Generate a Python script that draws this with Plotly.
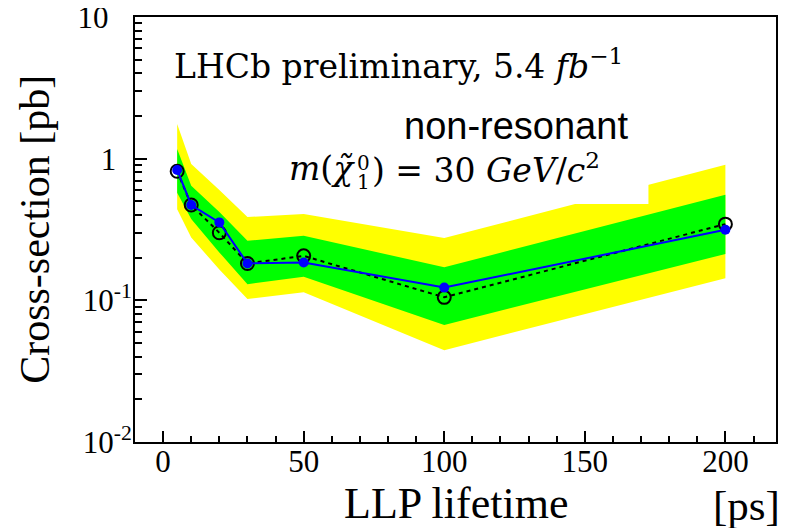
import plotly.graph_objects as go

# ---- data ----
lifetime = [5, 10, 20, 30, 50, 100, 200]            # ps
observed = [0.832, 0.471, 0.355, 0.182, 0.185, 0.123, 0.315]
expected = [0.815, 0.471, 0.300, 0.182, 0.206, 0.105, 0.345]
band1_up = [1.17, 0.645, 0.42, 0.263, 0.286, 0.171, 0.557]
band1_dn = [0.575, 0.375, 0.218, 0.130, 0.147, 0.0671, 0.212]
band2_up = [1.76, 0.917, 0.60, 0.387, 0.407, 0.275, 0.907]
band2_dn = [0.44, 0.278, 0.165, 0.102, 0.114, 0.0445, 0.143]
x_tickvals = [0, 50, 100, 150, 200]
y_tickvals = [0.01, 0.1, 1, 10]
NB = "\u00a0"
y_ticktext = ["10<sup>-2</sup>", "10<sup>-1</sup>", "1" + NB * 2, "10" + NB * 3]

SERIF = "Liberation Serif, Times New Roman, serif"
MATH = "DejaVu Serif, serif"
SANS = "Liberation Sans, Arial, sans-serif"

fig = go.Figure()

fig.add_trace(go.Scatter(
    x=lifetime + lifetime[::-1], y=band2_up + band2_dn[::-1],
    fill="toself", fillcolor="#ffff00", line=dict(width=0), mode="lines",
    hoverinfo="skip", showlegend=False))
fig.add_trace(go.Scatter(
    x=lifetime + lifetime[::-1], y=band1_up + band1_dn[::-1],
    fill="toself", fillcolor="#00ff00", line=dict(width=0), mode="lines",
    hoverinfo="skip", showlegend=False))
fig.add_trace(go.Scatter(
    x=lifetime, y=expected, mode="lines+markers",
    line=dict(color="black", width=2, dash="4px,4px"),
    marker=dict(symbol="circle-open", size=13, color="black", line=dict(width=2)),
    showlegend=False))
fig.add_trace(go.Scatter(
    x=lifetime, y=observed, mode="lines+markers",
    line=dict(color="#0000ff", width=2),
    marker=dict(symbol="circle", size=10, color="#0000ff"),
    showlegend=False))

# white background box of the pasted equation (covers part of the band)
fig.add_shape(type="rect", xref="paper", yref="paper",
              x0=0.233, x1=0.801, y0=0.56, y1=0.699,
              fillcolor="white", line=dict(width=0), layer="above")

ann = []
ann.append(dict(text="LHCb preliminary, 5.4 <i>fb</i><sup>−1</sup>",
                x=0.058, y=0.888, xanchor="left", yanchor="middle",
                font=dict(family=MATH, size=33, color="black")))
ann.append(dict(text="non-resonant", x=0.772, y=0.743, xanchor="right", yanchor="middle",
                font=dict(family=SANS, size=38, color="black")))
ann.append(dict(text="<i>m</i>(<i>χ̃</i>", x=0.347, y=0.643, xanchor="right", yanchor="middle",
                font=dict(family=MATH, size=33, color="black")))
ann.append(dict(text="0", x=0.356, y=0.656, xanchor="center", yanchor="middle",
                font=dict(family=MATH, size=20, color="black")))
ann.append(dict(text="1", x=0.356, y=0.611, xanchor="center", yanchor="middle",
                font=dict(family=MATH, size=20, color="black")))
ann.append(dict(text=") = 30 <i>GeV</i>/<i>c</i><sup>2</sup>", x=0.367, y=0.643,
                xanchor="left", yanchor="middle",
                font=dict(family=MATH, size=33, color="black")))
ann.append(dict(text="LLP lifetime", x=0.5, y=-0.145, xanchor="center", yanchor="middle",
                font=dict(family=SERIF, size=44, color="black")))
ann.append(dict(text="[ps]", x=1.009, y=-0.15, xanchor="right", yanchor="middle",
                font=dict(family=SERIF, size=43, color="black")))
ann.append(dict(text="Cross-section [pb]", x=-0.157, y=0.5, xanchor="center", yanchor="middle",
                textangle=-90, font=dict(family=SERIF, size=42, color="black")))
for a in ann:
    a.update(xref="paper", yref="paper", showarrow=False)

# the page body has an 8px default margin, so margins are reduced accordingly
fig.update_layout(
    width=786, height=528,
    margin=dict(l=127, r=18, t=9, b=94, autoexpand=False),
    plot_bgcolor="white", paper_bgcolor="white",
    annotations=ann, hovermode=False,
    xaxis=dict(
        range=[-10, 218], tickvals=x_tickvals, ticks="inside", ticklen=11,
        tickwidth=1.5, tickcolor="black",
        minor=dict(ticks="inside", ticklen=6, dtick=10, tick0=0, tickcolor="black", tickwidth=1.5),
        showline=True, linecolor="black", linewidth=2, mirror=True,
        showgrid=False, zeroline=False, automargin=False,
        ticklabelstandoff=-9, ticklabeloverflow="allow",
        tickfont=dict(family=SERIF, size=31, color="black"),
    ),
    yaxis=dict(
        type="log", range=[-2, 1], tickvals=y_tickvals, ticktext=y_ticktext,
        ticks="inside", ticklen=12, tickwidth=1.5, tickcolor="black",
        minor=dict(ticks="inside", ticklen=7, dtick="D1", tickcolor="black", tickwidth=1.5),
        showline=True, linecolor="black", linewidth=2, mirror=True,
        showgrid=False, zeroline=False, automargin=False,
        ticklabelstandoff=-5, ticklabeloverflow="allow",
        tickfont=dict(family=SERIF, size=31, color="black"),
    ),
)

fig.write_html("out.html")
